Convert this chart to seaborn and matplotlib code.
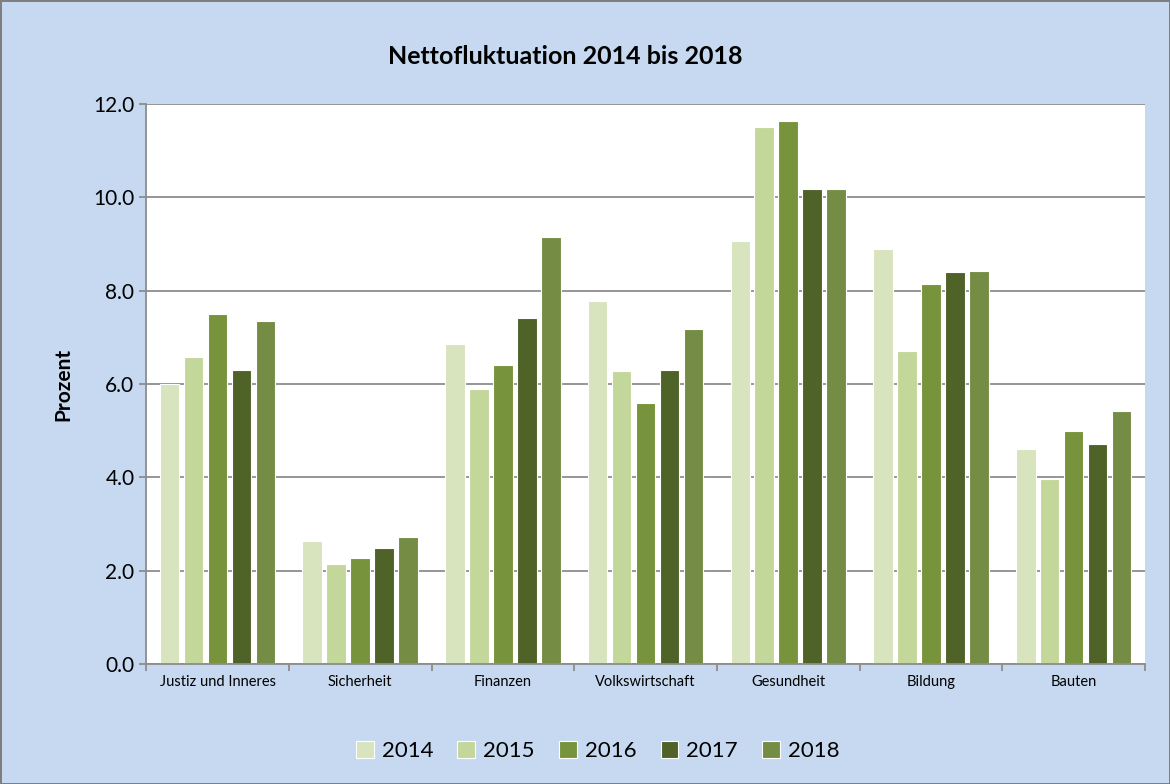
import numpy as np
import pandas as pd
import matplotlib.pyplot as plt
import seaborn as sns

#-------Data

categories = ['Justiz und Inneres', 'Sicherheit', 'Finanzen', 'Volkswirtschaft',
              'Gesundheit', 'Bildung', 'Bauten']
years = ['2014', '2015', '2016', '2017', '2018']
v2014 = [6.01, 2.63, 6.86, 7.78, 9.06, 8.90, 4.60]
v2015 = [6.58, 2.15, 5.89, 6.28, 11.50, 6.70, 3.97]
v2016 = [7.49, 2.28, 6.41, 5.60, 11.63, 8.15, 5.00]
v2017 = [6.31, 2.49, 7.41, 6.31, 10.17, 8.40, 4.71]
v2018 = [7.36, 2.72, 9.15, 7.18, 10.17, 8.42, 5.42]
colors = ['#D7E4BD', '#C4D79B', '#77933C', '#4F6228', '#758C45']

rows = []
for yr, vals in zip(years, [v2014, v2015, v2016, v2017, v2018]):
    for cat, v in zip(categories, vals):
        rows.append({'Bereich': cat, 'Jahr': yr, 'Prozent': v})
df = pd.DataFrame(rows)

#-------Settings

sns.set_theme(style="white")
plt.rcParams['font.family'] = ['Lato', 'DejaVu Sans']
plt.rcParams['text.color'] = 'black'
plt.rcParams['xtick.color'] = 'black'
plt.rcParams['ytick.color'] = 'black'
plt.rcParams['axes.labelcolor'] = 'black'

bg = '#C6D9F1'
grid_col = '#8C8C8C'

fig = plt.figure(figsize=(11.7, 7.84), dpi=100, facecolor=bg,
                 edgecolor='#7F7F7F', linewidth=2)
ax = fig.add_axes([0.125, 0.153, 0.8536, 0.7144])

sns.barplot(data=df, x='Bereich', y='Prozent', hue='Jahr', order=categories,
            hue_order=years, palette=colors, saturation=1, width=0.84, gap=0.18,
            linewidth=0.8, edgecolor='white', ax=ax, legend=True)

ax.set_facecolor('white')
ax.set_ylim(0, 12)
ax.set_xlim(-0.5, len(categories) - 0.5)
ax.set_yticks(np.arange(0, 12.1, 2))
ax.set_yticklabels([f'{t:.1f}' for t in np.arange(0, 12.1, 2)], fontsize=15)
ax.yaxis.grid(True, color=grid_col, linewidth=1.3)
ax.set_axisbelow(True)

ax.tick_params(axis='x', which='major', length=0, labelsize=10.5, pad=8)
ax.set_xticks(np.arange(-0.5, len(categories)), minor=True)
ax.tick_params(axis='x', which='minor', length=5, color=grid_col, width=1.3,
               direction='out', bottom=True)
ax.tick_params(axis='y', length=5, color=grid_col, width=1.3, left=True,
               direction='out', labelcolor='black')

for s in ['top', 'right']:
    ax.spines[s].set_visible(False)
for s in ['left', 'bottom']:
    ax.spines[s].set_color(grid_col)
    ax.spines[s].set_linewidth(1.3)

ax.set_xlabel('')
ax.set_ylabel('Prozent', fontsize=15, fontweight='bold', labelpad=14)
fig.text(0.483, 0.928, 'Nettofluktuation 2014 bis 2018', ha='center', va='center',
         fontsize=18, fontweight='bold')

ax.legend(loc='center', bbox_to_anchor=(0.452, -0.155), ncol=5, frameon=False,
          fontsize=16, handlelength=0.8, handleheight=0.8, columnspacing=1.1,
          handletextpad=0.35)

plt.savefig('out.png', dpi=100, facecolor=bg, edgecolor=fig.get_edgecolor())
plt.close()
